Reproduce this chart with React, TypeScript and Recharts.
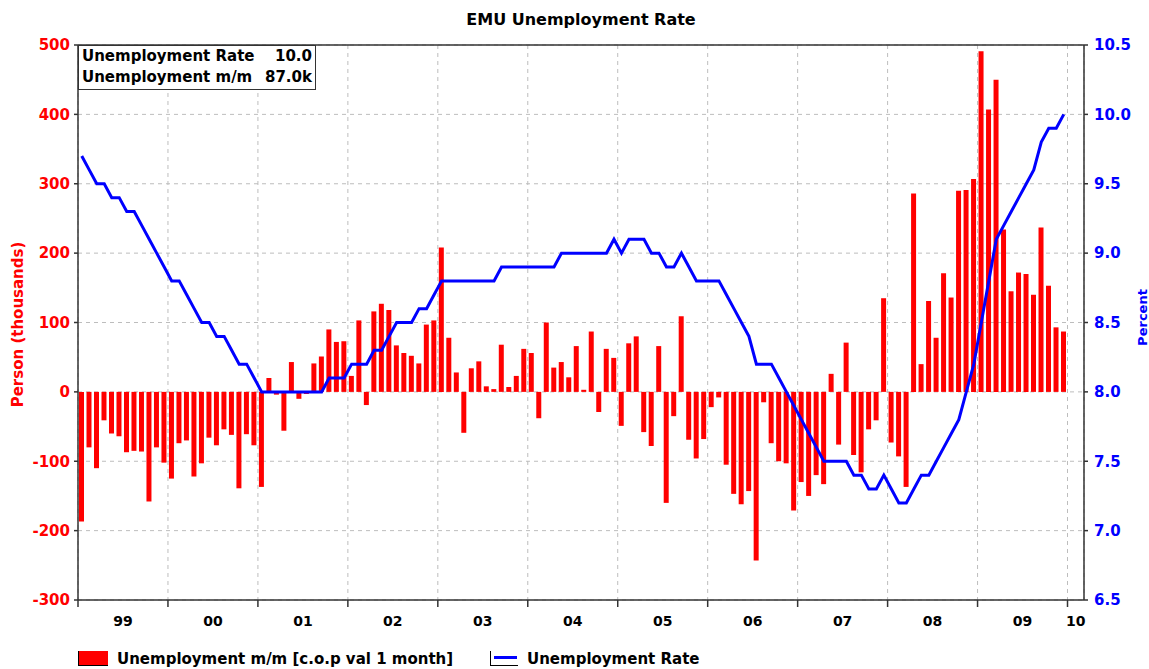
import {
  Bar, CartesianGrid, ComposedChart, Legend, Line, ReferenceLine, XAxis, YAxis,
} from "recharts";

// ─── Data (monthly, Jan 1999 .. Dec 2009) ─────────────────────
const YEAR_LABELS = ["99", "00", "01", "02", "03", "04", "05", "06", "07", "08", "09", "10"];

// unemployment m/m change, thousands
const MOM_CHANGE = [
  -187, -80, -110, -41, -60, -64, -87, -85, -86, -158, -80, -102, // 1999
  -125, -74, -70, -122, -103, -66, -77, -54, -62, -139, -61, -77, // 2000
  -137, 20, -4, -56, 43, -10, -3, 41, 51, 90, 72, 73, // 2001
  23, 103, -19, 116, 127, 118, 67, 56, 52, 41, 97, 103, // 2002
  208, 78, 28, -59, 34, 44, 8, 4, 68, 7, 23, 62, // 2003
  56, -38, 100, 35, 43, 21, 66, 3, 87, -29, 62, 49, // 2004
  -49, 70, 80, -58, -78, 66, -160, -35, 109, -69, -96, -68, // 2005
  -22, -8, -105, -147, -162, -143, -243, -15, -74, -100, -103, -171, // 2006
  -130, -150, -120, -133, 26, -76, 71, -91, -116, -54, -41, 135, // 2007
  -73, -93, -137, 286, 40, 131, 78, 171, 136, 290, 291, 307, // 2008
  491, 407, 450, 234, 145, 172, 170, 140, 237, 153, 93, 87, // 2009
];

// unemployment rate, percent
const UNEMP_RATE = [
  9.7, 9.6, 9.5, 9.5, 9.4, 9.4, 9.3, 9.3, 9.2, 9.1, 9.0, 8.9,
  8.8, 8.8, 8.7, 8.6, 8.5, 8.5, 8.4, 8.4, 8.3, 8.2, 8.2, 8.1,
  8.0, 8.0, 8.0, 8.0, 8.0, 8.0, 8.0, 8.0, 8.0, 8.1, 8.1, 8.1,
  8.2, 8.2, 8.2, 8.3, 8.3, 8.4, 8.5, 8.5, 8.5, 8.6, 8.6, 8.7,
  8.8, 8.8, 8.8, 8.8, 8.8, 8.8, 8.8, 8.8, 8.9, 8.9, 8.9, 8.9,
  8.9, 8.9, 8.9, 8.9, 9.0, 9.0, 9.0, 9.0, 9.0, 9.0, 9.0, 9.1,
  9.0, 9.1, 9.1, 9.1, 9.0, 9.0, 8.9, 8.9, 9.0, 8.9, 8.8, 8.8,
  8.8, 8.8, 8.7, 8.6, 8.5, 8.4, 8.2, 8.2, 8.2, 8.1, 8.0, 7.9,
  7.8, 7.7, 7.6, 7.5, 7.5, 7.5, 7.5, 7.4, 7.4, 7.3, 7.3, 7.4,
  7.3, 7.2, 7.2, 7.3, 7.4, 7.4, 7.5, 7.6, 7.7, 7.8, 8.0, 8.2,
  8.5, 8.8, 9.1, 9.2, 9.3, 9.4, 9.5, 9.6, 9.8, 9.9, 9.9, 10.0,
];

const LEFT_TICKS = [-300, -200, -100, 0, 100, 200, 300, 400, 500];
const RIGHT_TICKS = [6.5, 7.0, 7.5, 8.0, 8.5, 9.0, 9.5, 10.0, 10.5];

// ─── Chart config ─────────────────────────────────────────────
const X_MAX = 134.2; // axis runs a little past Jan 2010
const RED = "#ff0000";
const BLUE = "#0000ff";
const AXIS = "#333333";
const GRID = "#bdbdbd";
const FONT = "DejaVu Sans";

const chartData = MOM_CHANGE.map((v, i) => ({ x: i + 0.5, mom: v, rate: UNEMP_RATE[i] }));
const yearBounds = YEAR_LABELS.map((_, i) => i * 12);
const labelPos = YEAR_LABELS.map((_, i) => (i * 12 + Math.min((i + 1) * 12, X_MAX)) / 2);

// year-boundary axis ("a") only draws tick marks; labels sit on axis "b" below it
const NoLabel = () => <g />;

function ChartLegend() {
  return (
    <div style={{ position: "relative", height: 33, width: 1149, fontFamily: FONT, fontWeight: "bold", fontSize: 15 }}>
      <div style={{ position: "absolute", left: 78, top: 15, width: 29, height: 14, background: RED, borderLeft: "1px solid #000", borderBottom: "1px solid #000" }} />
      <div style={{ position: "absolute", left: 117, top: 13, lineHeight: "20px", color: "#000" }}>
        Unemployment m/m [c.o.p val 1 month]
      </div>
      <div style={{ position: "absolute", left: 490, top: 15, width: 27, height: 14, borderLeft: "1px solid #000", borderBottom: "1px solid #000" }}>
        <div style={{ position: "absolute", left: 3, right: 1, top: 5, height: 3, background: BLUE }} />
      </div>
      <div style={{ position: "absolute", left: 527, top: 13, lineHeight: "20px", color: "#000" }}>
        Unemployment Rate
      </div>
    </div>
  );
}

export default function App() {
  return (
    <div style={{ position: "relative", width: 1149, height: 669, fontFamily: FONT, background: "#fff" }}>
      <style>{"body{margin:0}"}</style>
      <div style={{ position: "absolute", left: 78, width: 1006, top: 10, textAlign: "center", fontSize: 16, fontWeight: "bold", lineHeight: "20px" }}>
        EMU Unemployment Rate
      </div>
      <ComposedChart width={1149} height={669} data={chartData} margin={{ top: 45, right: 0, bottom: 0, left: 0 }}>
        <CartesianGrid xAxisId="a" yAxisId="left" stroke={GRID} strokeDasharray="4 4" />
        <XAxis
          xAxisId="a" type="number" dataKey="x" domain={[0, X_MAX]} allowDataOverflow
          ticks={yearBounds} interval={0} tick={NoLabel} tickSize={7} height={7}
          stroke={AXIS} strokeWidth={1.5}
        />
        <XAxis
          xAxisId="b" type="number" dataKey="x" domain={[0, X_MAX]} allowDataOverflow
          ticks={labelPos} interval={0} axisLine={false} tickLine={false} height={29} tickMargin={3}
          tickFormatter={(_v: number, i: number) => YEAR_LABELS[i]}
          tick={{ fill: "#000", fontSize: 14, fontWeight: "bold", fontFamily: FONT }}
        />
        <YAxis
          yAxisId="left" width={78} domain={[-300, 500]} ticks={LEFT_TICKS} interval={0}
          tickSize={4} tickMargin={4} stroke={AXIS} strokeWidth={1.5}
          tick={{ fill: RED, fontSize: 15, fontWeight: "bold", fontFamily: FONT }}
          label={({ viewBox }: any) => (
            <text
              x={viewBox.x + 18} y={viewBox.y + viewBox.height / 2 + 2}
              transform={`rotate(-90 ${viewBox.x + 18} ${viewBox.y + viewBox.height / 2 + 2})`}
              textAnchor="middle" dominantBaseline="central"
              fill={RED} fontSize={15} fontWeight="bold" fontFamily={FONT}
            >
              Person (thousands)
            </text>
          )}
        />
        <YAxis
          yAxisId="right" orientation="right" width={65} domain={[6.5, 10.5]} ticks={RIGHT_TICKS} interval={0}
          tickSize={4} tickMargin={6} stroke={AXIS} strokeWidth={1.5}
          tickFormatter={(v: number) => v.toFixed(1)}
          tick={{ fill: BLUE, fontSize: 15, fontWeight: "bold", fontFamily: FONT }}
          label={({ viewBox }: any) => (
            <text
              x={viewBox.x + 58} y={viewBox.y + viewBox.height / 2 - 5}
              transform={`rotate(-90 ${viewBox.x + 58} ${viewBox.y + viewBox.height / 2 - 5})`}
              textAnchor="middle" dominantBaseline="central"
              fill={BLUE} fontSize={13} fontWeight="bold" fontFamily={FONT}
            >
              Percent
            </text>
          )}
        />
        <ReferenceLine xAxisId="a" yAxisId="left" y={500} stroke={AXIS} strokeWidth={1.5} />
        <Bar xAxisId="a" yAxisId="left" dataKey="mom" name="Unemployment m/m [c.o.p val 1 month]" fill={RED} barSize={5} isAnimationActive={false} />
        <Line
          xAxisId="a" yAxisId="right" type="linear" dataKey="rate" name="Unemployment Rate"
          stroke={BLUE} strokeWidth={3} dot={false} activeDot={false} isAnimationActive={false}
        />
        <Legend verticalAlign="bottom" align="left" height={33} wrapperStyle={{ left: 0, bottom: 0 }} content={() => <ChartLegend />} />
      </ComposedChart>
      <div
        style={{
          position: "absolute", left: 78, top: 45, width: 238, height: 45, boxSizing: "border-box",
          border: "1px solid #333", background: "#fff", fontSize: 15, fontWeight: "bold", lineHeight: "21px",
          padding: "0 3px",
        }}
      >
        <div style={{ display: "flex", justifyContent: "space-between" }}>
          <span>Unemployment Rate</span><span>{UNEMP_RATE[UNEMP_RATE.length - 1].toFixed(1)}</span>
        </div>
        <div style={{ display: "flex", justifyContent: "space-between" }}>
          <span>Unemployment m/m</span><span>{MOM_CHANGE[MOM_CHANGE.length - 1].toFixed(1)}k</span>
        </div>
      </div>
    </div>
  );
}
